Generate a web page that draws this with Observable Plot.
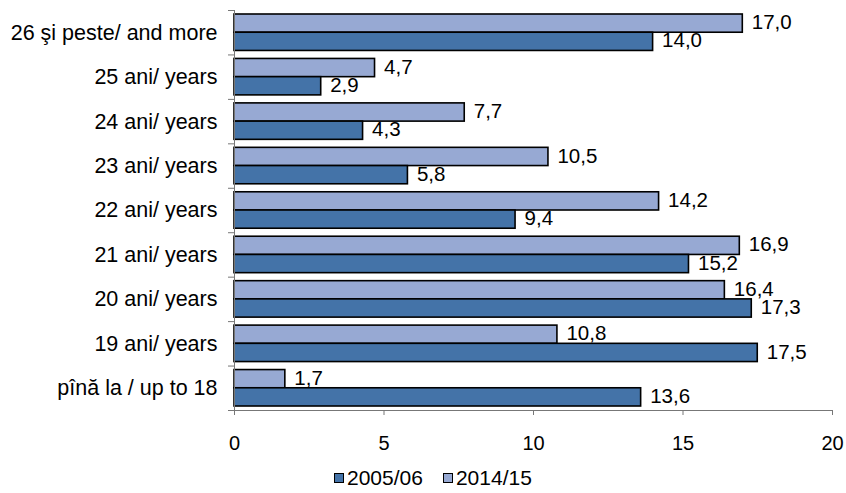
<!DOCTYPE html>
<html>
<head>
<meta charset="utf-8">
<script src="https://cdn.jsdelivr.net/npm/d3@7"></script>
<script src="https://cdn.jsdelivr.net/npm/@observablehq/plot@0.6"></script>
<style>
  html, body { margin: 0; padding: 0; background: white; }
  #wrap { position: relative; width: 846px; height: 493px; font-family: "Liberation Sans", Arial, sans-serif; }
  #legend { position: absolute; top: 466px; left: 334px; display: flex; align-items: center; font-size: 21px; color: black; line-height: 24px; }
  .sw { width: 8px; height: 8px; border: 1.5px solid black; margin-right: 3px; }
  .item { display: flex; align-items: center; margin-right: 20px; }
</style>
</head>
<body>
<div id="wrap"><div id="chart"></div><div id="legend"></div></div>
<script>
const categories = ["pînă la / up to 18", "19 ani/ years", "20 ani/ years", "21 ani/ years", "22 ani/ years", "23 ani/ years", "24 ani/ years", "25 ani/ years", "26 şi peste/ and more"];
const v2005 = [13.6, 17.5, 17.3, 15.2, 9.4, 5.8, 4.3, 2.9, 14.0];
const v2014 = [1.7, 10.8, 16.4, 16.9, 14.2, 10.5, 7.7, 4.7, 17.0];
const series = ["2005/06", "2014/15"];
const xTicks = [0, 5, 10, 15, 20];

const colors = {"2005/06": "#4473a8", "2014/15": "#97a9d3"};
const rows = categories.map((c, i) => ({cat: c, i, a: v2005[i], b: v2014[i]}));
const fmt = v => v.toFixed(1).replace(".", ",");

const chart = Plot.plot({
  width: 846,
  height: 455,
  marginLeft: 234,
  marginRight: 14,
  marginTop: 10,
  marginBottom: 45,
  style: {fontFamily: "Liberation Sans, Arial, sans-serif", fontSize: "20px", color: "black", background: "white", overflow: "visible"},
  x: {domain: [0, 20]},
  y: {domain: [0, categories.length]},
  marks: [
    Plot.rectX(rows, {x1: 0, x2: "b", y1: d => d.i + 0.5, y2: d => d.i + 0.91, fill: colors["2014/15"], stroke: "black", strokeWidth: 1.6}),
    Plot.rectX(rows, {x1: 0, x2: "a", y1: d => d.i + 0.09, y2: d => d.i + 0.5, fill: colors["2005/06"], stroke: "black", strokeWidth: 1.6}),
    Plot.text(rows, {x: "b", y: d => d.i + 0.705, text: d => fmt(d.b), textAnchor: "start", dx: 9, dy: -1, fill: "black", fontSize: 20.5}),
    Plot.text(rows, {x: "a", y: d => d.i + 0.295, text: d => fmt(d.a), textAnchor: "start", dx: 9, dy: -1, fill: "black", fontSize: 20.5}),
    Plot.ruleX([0], {stroke: "#777"}),
    Plot.ruleY([0], {stroke: "#777"}),
    Plot.axisY({ticks: d3.range(0, categories.length + 1), tickFormat: () => "", tickSize: 6, stroke: "#777"}),
    Plot.axisY({ticks: d3.range(categories.length).map(i => i + 0.5), tickFormat: t => categories[Math.floor(t)], tickSize: 0, tickPadding: 17, fill: "black", fontSize: 21.5, label: null}),
    Plot.axisX({ticks: xTicks, tickSize: 5, tickPadding: 20, stroke: "#777", fill: "black", fontSize: 20, label: null})
  ]
});
document.getElementById("chart").appendChild(chart);

const legend = document.getElementById("legend");
for (const s of series) {
  const item = document.createElement("div");
  item.className = "item";
  const sw = document.createElement("div");
  sw.className = "sw";
  sw.style.background = colors[s];
  const t = document.createElement("span");
  t.textContent = s;
  item.appendChild(sw);
  item.appendChild(t);
  legend.appendChild(item);
}
</script>
</body>
</html>
